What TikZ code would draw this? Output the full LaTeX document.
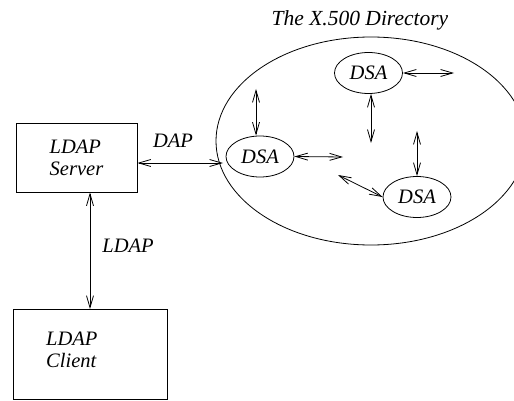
\documentclass[tikz,border=0pt]{standalone}
\usepackage{fontspec}
\setmainfont{Liberation Serif}
\usetikzlibrary{shapes.geometric,arrows.meta}
\begin{document}
\begin{tikzpicture}[x=1pt,y=-1pt,
  lbl/.style={font=\fontsize{20.5}{22}\selectfont\itshape, inner sep=0pt},
  boxnode/.style={draw, line width=0.8pt, rectangle, inner sep=0pt},
  dsa/.style={draw, line width=0.8pt, ellipse, minimum width=68pt, minimum height=41pt, inner sep=0pt, font=\fontsize{20.5}{22}\selectfont\itshape},
  link/.style={line width=0.8pt, {Straight Barb[length=12pt,width=7pt]}-{Straight Barb[length=12pt,width=7pt]}}
]
\useasboundingbox (0,0) rectangle (514,401);
% directory
\node[draw, line width=0.8pt, ellipse, minimum width=310pt, minimum height=208pt, inner sep=0pt] (dir) at (371,141) {};
\node[lbl, font=\fontsize{21.5}{22}\selectfont\itshape] (title) at (360,20) {The X.500 Directory};
% DSAs
\node[dsa] (dsa1) at (260,156.5) {DSA};
\node[dsa] (dsa2) at (368.5,73) {DSA};
\node[dsa] (dsa3) at (417,197) {DSA};
% boxes
\node[boxnode, minimum width=121pt, minimum height=69pt, align=left, font=\fontsize{20.5}{22}\selectfont\itshape] (server) at (76.5,157.5) {LDAP\\Server};
\node[boxnode, minimum width=154pt, minimum height=90pt] (client) at (90,354.5) {};
\node[lbl, anchor=west, align=left] (clienttext) at (46,350) {LDAP\\Client};
% labels
\node[lbl] (daplbl) at (173,141) {DAP};
\node[lbl] (ldaplbl) at (128,246) {LDAP};
% coordinates for free ends
\coordinate (dapend) at (223,163);
\coordinate (a1) at (256,89);
\coordinate (a2) at (343,157);
\coordinate (a3) at (454,73);
\coordinate (a4) at (371,143);
\coordinate (a5) at (417,131);
\coordinate (a6) at (338,175);
% connectors
\draw[link] (server.east |- dapend) -- (dapend);
\draw[link] (client.north |- server.south) -- (client.north);
\draw[link] (a1) -- (a1 |- dsa1.north);
\draw[link] (dsa1.east) -- (a2);
\draw[link] (dsa2.east) -- (a3);
\draw[link] (dsa2.south -| a4) -- (a4);
\draw[link] (a5) -- (dsa3.north);
\draw[link] (a6) -- (dsa3.west);
\end{tikzpicture}
\end{document}
